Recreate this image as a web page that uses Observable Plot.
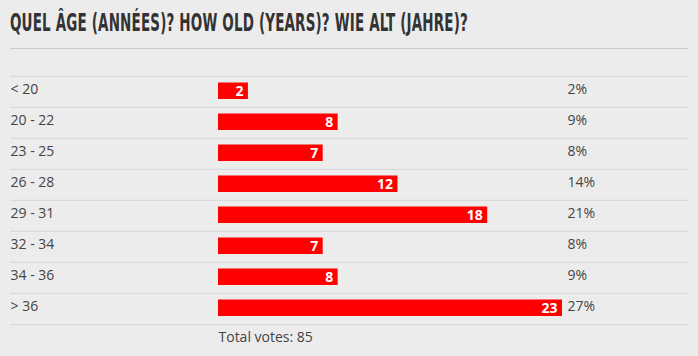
<!DOCTYPE html>
<html>
<head>
<meta charset="utf-8">
<script src="https://cdn.jsdelivr.net/npm/d3@7"></script>
<script src="https://cdn.jsdelivr.net/npm/@observablehq/plot@0.6"></script>
<style>
  html, body { margin: 0; padding: 0; background: #ececec; }
  body { width: 698px; height: 356px; overflow: hidden; font-family: "Open Sans", sans-serif; }
  #title { position: relative; height: 48px; }
  #title span {
    position: absolute; left: 10px; top: 10px;
    font-family: "Liberation Sans Narrow", "DejaVu Sans Condensed", sans-serif;
    font-weight: bold; font-size: 25px; line-height: 25px; color: #333;
    white-space: nowrap; transform-origin: 0 0; letter-spacing: 0.3px;
  }
  #rule { margin-left: 10px; width: 678px; border-top: 1px solid #c9c9c9; }
  svg { display: block; }
</style>
</head>
<body>
<div id="title"><span id="t">QUEL ÂGE (ANNÉES)? HOW OLD (YEARS)? WIE ALT (JAHRE)?</span></div>
<div id="rule"></div>
<div id="chart"></div>
<script>
const categories = ["< 20", "20 - 22", "23 - 25", "26 - 28", "29 - 31", "32 - 34", "34 - 36", "> 36"];
const votes = [2, 8, 7, 12, 18, 7, 8, 23];
const percentLabels = ["2%", "9%", "8%", "14%", "21%", "8%", "9%", "27%"];
const totalVotes = 85;

const data = categories.map((c, i) => ({ cat: c, v: votes[i], pct: percentLabels[i] }));
const H = 307;
const band = 31.4;
const textColor = "#444";

const chart = Plot.plot({
  width: 698,
  height: H,
  marginLeft: 218,
  marginRight: 136,
  marginTop: 25,
  marginBottom: H - 25 - band * categories.length,
  style: { background: "transparent", fontFamily: "'Open Sans', sans-serif", fontSize: "14px" },
  x: { domain: [0, 23], axis: null },
  y: { domain: categories, axis: null, padding: 0 },
  marks: [
    Plot.ruleY(categories, { y: d => d, dy: -band / 2, stroke: "#d6d6d6", strokeWidth: 1 }),
    Plot.ruleY([categories[categories.length - 1]], { y: d => d, dy: band / 2, stroke: "#d6d6d6", strokeWidth: 1 }),
    Plot.barX(data, { x: "v", y: "cat", fill: "#ff0000", insetTop: 6.5, insetBottom: 8 }),
    Plot.text(data, { x: "v", y: "cat", text: d => String(d.v), fill: "white", fontWeight: "bold",
      textAnchor: "end", dx: -5, dy: -0.5, fontSize: 14 }),
    Plot.text(data, { x: 0, y: "cat", text: "cat", fill: textColor, textAnchor: "start", dx: -208, dy: -2 }),
    Plot.text(data, { y: "cat", text: "pct", frameAnchor: "right", fill: textColor, textAnchor: "start", dx: 5, dy: -2 }),
    Plot.text([`Total votes: ${totalVotes}`], { x: 0, frameAnchor: "bottom", text: d => d, fill: textColor,
      textAnchor: "start", dy: 16 })
  ]
});
// rules span the full row width from x=10 to 688
chart.querySelectorAll("g[aria-label='rule'] line").forEach(l => {
  l.setAttribute("x1", 10); l.setAttribute("x2", 688);
});
document.getElementById("chart").appendChild(chart);

const t = document.getElementById("t");
const w = t.getBoundingClientRect().width;
t.style.transform = `scaleX(${458 / w})`;
</script>
</body>
</html>
